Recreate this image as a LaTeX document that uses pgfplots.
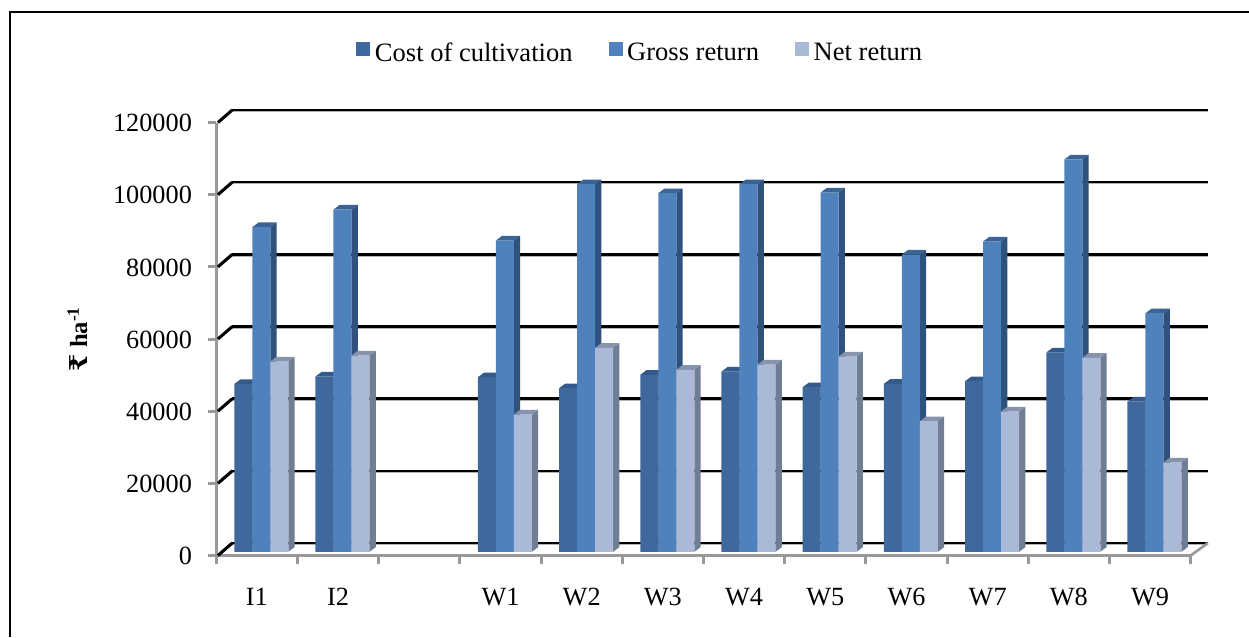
\documentclass[border=0pt]{standalone}
\usepackage{pgfplots}
\usepackage{pgfplotstable}
\usepackage{fontspec}
\setmainfont{Liberation Serif}
\newfontfamily\rupee{DejaVu Serif}
\pgfplotsset{compat=1.18}
\definecolor{cdark}{HTML}{3F689C}
\definecolor{cmid}{HTML}{4F81BD}
\definecolor{clight}{HTML}{AAB9D8}
\definecolor{tdark}{HTML}{335A8A}
\definecolor{sdark}{HTML}{2F5078}
\definecolor{tmid}{HTML}{3B6494}
\definecolor{smid}{HTML}{2F527D}
\definecolor{tlight}{HTML}{8593AD}
\definecolor{slight}{HTML}{707E94}
\definecolor{axgray}{HTML}{999999}
\pgfplotstableread{
x cost gross net
0.5 46500 89970 52740
1.5 48590 94870 54410
3.5 48390 86280 38050
4.5 45340 101880 56540
5.5 49060 99390 50440
6.5 49970 101880 51910
7.5 45620 99580 54130
8.5 46560 82400 36200
9.5 47280 86000 38890
10.5 55240 108730 53770
11.5 41660 66130 24750
}\tbl
\pgfplotstableread{
a b h
1 0 0
1 1 0
1 1 1
1 0 1
}\sideT
\pgfplotstableread{
a b h
-1 0 1
1 0 1
1 1 1
-1 1 1
}\topT
\newcommand{\series}[7]{%
 \pgfplotsforeachungrouped \i in {0,...,10}{%
  \pgfplotstablegetelem{\i}{x}\of\tbl \let\cx\pgfplotsretval
  \pgfplotstablegetelem{\i}{#1}\of\tbl \let\cv\pgfplotsretval
  \addplot[fill=#3,draw=none,forget plot,yshift=2.78pt] table[x expr={\cx+#6+\thisrow{a}*0.1108+\thisrow{b}*0.0776}, y expr={\thisrow{h}*\cv+\thisrow{b}*1300}] {\sideT};
  \addplot[fill=#2,draw=none,forget plot,yshift=2.78pt] table[x expr={\cx+#6+\thisrow{a}*0.1108+\thisrow{b}*0.0776}, y expr={\thisrow{h}*\cv+\thisrow{b}*1300}] {\topT};
 }%
 \addplot[ybar,bar width=13.5pt,bar shift=#5pt,fill=#4,draw=none,yshift=2.78pt,
   legend image code/.code={\fill[#4] (0pt,-5.25pt) rectangle (10.5pt,5.25pt);\path (12pt,0);}] table[x=x,y=#1]{\tbl};
 \addlegendentry{#7}
}
\newcommand{\gridl}[2]{%
 \addplot[color=black!30,line width=1.1pt,forget plot,yshift=-1.1pt] coordinates {(0.197,#2) (12.213,#2)};
 \addplot[black,line width=1.9pt,forget plot] coordinates {(0.197,#2) (12.213,#2)};
 \addplot[black,line width=2.3pt,forget plot] coordinates {(0.02,#1) (0.197,#2)};
}
\begin{document}
\begin{tikzpicture}
\useasboundingbox (0,0) rectangle (936.75pt,477.75pt);
\draw[black,line width=1.9pt] (7.6pt,0) -- (7.6pt,468.6pt) -- (936.75pt,468.6pt);
\begin{axis}[
  at={(162.2pt,61.1pt)},anchor=south west,
  scale only axis,width=730.8pt,height=324.75pt,
  xmin=0,xmax=12,ymin=0,ymax=120000,clip=false,
  axis x line=bottom,axis y line=left,
  axis line style={-,axgray,line width=2.25pt},
  xtick={0.5,1.5,2.5,3.5,4.5,5.5,6.5,7.5,8.5,9.5,10.5,11.5},
  xticklabels={I1,I2,{},W1,W2,W3,W4,W5,W6,W7,W8,W9},
  minor xtick={0,1,...,12},
  ytick={0,20000,...,120000},
  scaled y ticks=false,
  yticklabel style={/pgf/number format/fixed,/pgf/number format/precision=0,/pgf/number format/assume math mode=true,/pgf/number format/1000 sep={}},
  tick align=outside,
  major x tick style={draw=none},
  minor x tick style={axgray,line width=2.25pt},
  minor tick length=6pt,
  major y tick style={axgray,line width=2.25pt},
  major tick length=6pt,
  tick label style={font=\fontsize{19.7}{23}\selectfont,black},
  x tick label style={text height=13.3pt,text depth=0pt,yshift=-14.5pt},
  y tick label style={xshift=-8.75pt,yshift=-0.4pt},
  every axis y label/.style={at={(rel axis cs:-0.1425,0.5)},rotate=90,anchor=center},
  ylabel={\fontsize{18.5}{22}\selectfont\bfseries{\rupee\symbol{"20B9}} ha\textsuperscript{-1}},
  legend style={at={(rel axis cs:0.4354,1.1605)},anchor=center,draw=none,fill=none,
    legend columns=3,font=\fontsize{19.9}{23}\selectfont,
    /tikz/every even column/.append style={column sep=25pt}},
]
\gridl{0}{3465}
\gridl{20000}{23465}
\gridl{40000}{43465}
\gridl{60000}{63465}
\gridl{80000}{83465}
\gridl{100000}{103465}
\gridl{120000}{123465}
\addplot[axgray,line width=2pt,forget plot] coordinates {(12,0) (12.213,3465)};
\series{cost}{tdark}{sdark}{cdark}{-10.2}{-0.1675}{Cost of cultivation}
\series{gross}{tmid}{smid}{cmid}{3.3}{0.0542}{Gross return}
\series{net}{tlight}{slight}{clight}{16.8}{0.2759}{Net return}
\end{axis}
\end{tikzpicture}
\end{document}
